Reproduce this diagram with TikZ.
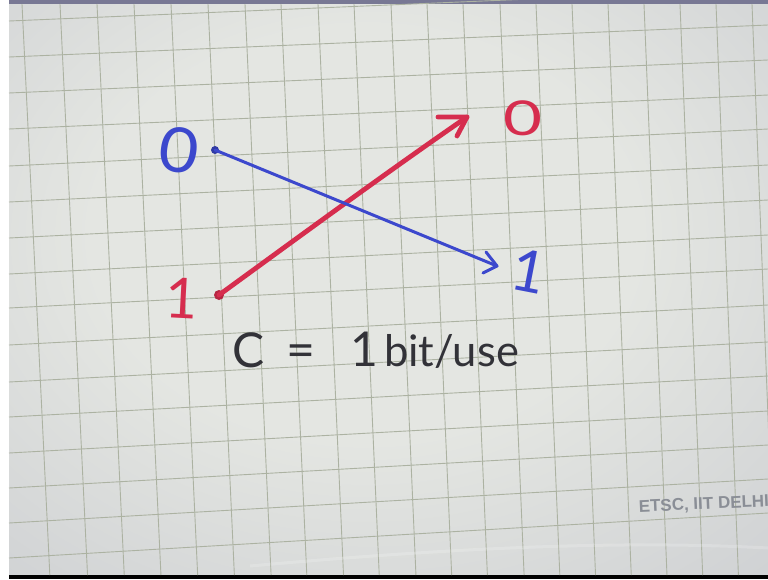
\documentclass[tikz,border=0pt]{standalone}
\usepackage{fontspec}
\setmainfont{Lato}
\newfontfamily\wmfont{Liberation Sans}
\usetikzlibrary{calc}
\definecolor{blueink}{RGB}{60,72,205}
\definecolor{redink}{RGB}{214,45,78}
\definecolor{inkc}{RGB}{50,50,56}
\definecolor{gridc}{RGB}{172,178,162}
\definecolor{wmc}{RGB}{138,142,150}
\definecolor{paperc}{RGB}{228,230,226}
\definecolor{papermid}{RGB}{208,210,212}
\definecolor{papere}{RGB}{160,162,182}
\definecolor{topband}{RGB}{120,120,148}
\pgfdeclareradialshading{papershade}{\pgfpoint{-2bp}{6bp}}{color(0bp)=(paperc); color(18bp)=(paperc); color(38bp)=(papermid); color(62bp)=(papere); color(80bp)=(papere)}
\tikzset{
  gridline/.style={draw=gridc, line width=0.9pt},
  bluestroke/.style={draw=blueink, line width=3pt, line cap=round, line join=round},
  redstroke/.style={draw=redink, line width=4.8pt, line cap=round, line join=round},
  dotnode/.style={circle, inner sep=0pt, minimum size=#1},
  lbl/.style={inner sep=0pt, outer sep=0pt},
  handtext/.style={inner sep=0pt, outer sep=0pt, text=inkc, anchor=base west},
}
\begin{document}
\begin{tikzpicture}[x=1pt,y=-1pt]
\useasboundingbox (0,0) rectangle (768,579);
\clip (0,0) rectangle (768,579);
% background
\fill[white] (0,0) rectangle (768,579);
\shade[shading=papershade] (9,0) rectangle (768,575);
\fill[topband] (9,0) rectangle (768,4);
\fill[black] (9,575) rectangle (768,579);
% grid: horizontal lines (x=10 -> x=768)
\foreach \yl/\yr in {21/-11, 57/25, 93/60, 129/95, 166/129, 202/165, 238/200, 274/235, 308/269, 345/305, 382/342, 417/376, 453/411, 488/445, 523/479, 558/513}
  \draw[gridline] (9,\yl) -- (768,\yr);
% grid: vertical lines (top -> bottom)
\foreach \xt in {22, 60, 97, 134, 171, 208, 245, 281, 318, 354, 391, 427, 463, 500, 536, 572, 608, 644, 680, 716, 752}
  \draw[gridline] (\xt,4) -- ({\xt+28-6*\xt/768},575);
% paper curl highlight
\draw[white, opacity=0.18, line width=3pt] (250,566) .. controls (450,548) and (620,540) .. (768,548);
% watermark
\node[lbl, anchor=base west, rotate=2.5, text=wmc, font=\wmfont\bfseries\fontsize{17}{17}\selectfont] (wm) at (639,512) {ETSC, IIT DELHI};
% labels
\node[lbl, text=blueink, font=\fontsize{62}{62}\selectfont, rotate=-8] (in0) at (179,150) {\scalebox{1.1}[1]{0}};
\node[lbl, text=redink, font=\fontsize{56}{56}\selectfont, rotate=-3] (in1) at (181.5,298) {1};
\node[lbl, text=redink, font=\fontsize{48}{48}\selectfont] (out0) at (523,118) {\scalebox{1.4}[1]{0}};
\node[lbl, text=blueink, font=\fontsize{58}{58}\selectfont, rotate=-11] (out1) at (528.5,271.5) {1};
% start dots
\node[dotnode=8pt, fill=blueink!80!black] (b0) at (215,150) {};
\node[dotnode=10pt, fill=redink!85!black] (r0) at (219,295) {};
% arrow tips and barbs
\coordinate (bt) at (497,266);
\coordinate (bb1) at (486,252);
\coordinate (bb2) at (483,273);
\coordinate (rt) at (467,117);
\coordinate (rb1) at (438,117);
\coordinate (rb2) at (457,136);
% connectors
\draw[redstroke] (r0.center) .. controls (300,236) and (390,170) .. (rt);
\draw[redstroke] (rb1) -- (rt) -- (rb2);
\draw[bluestroke] (b0.center) -- (bt);
\draw[bluestroke] (bb1) -- (bt) -- (bb2);
% capacity text
\node[handtext, font=\fontsize{48}{48}\selectfont] (cc) at (232,367) {C};
\node[handtext, font=\fontsize{50}{50}\selectfont] (eq) at (286,367) {=};
\node[handtext, font=\fontsize{48}{48}\selectfont] (one) at (350,366) {1};
\node[handtext, font=\fontsize{43.5}{43.5}\selectfont] (bits) at (384,366) {bit/use};
\end{tikzpicture}
\end{document}
